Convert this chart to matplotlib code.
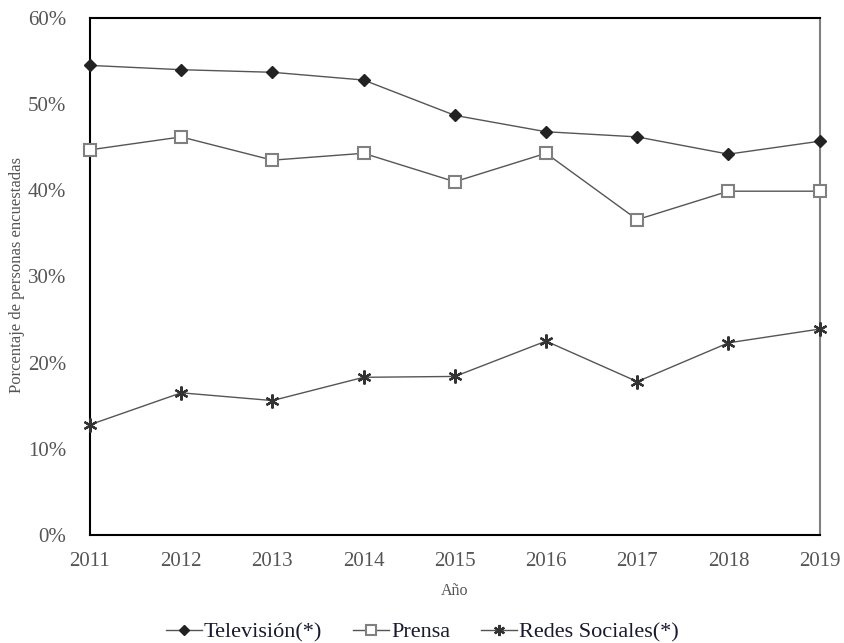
import matplotlib
matplotlib.use("Agg")
import matplotlib.pyplot as plt
from matplotlib.ticker import FuncFormatter

years = [2011, 2012, 2013, 2014, 2015, 2016, 2017, 2018, 2019]
television = [54.5, 54.0, 53.7, 52.8, 48.7, 46.8, 46.2, 44.2, 45.7]
prensa = [44.7, 46.2, 43.5, 44.3, 41.0, 44.3, 36.6, 39.9, 39.9]
redes = [12.8, 16.5, 15.6, 18.3, 18.4, 22.5, 17.8, 22.3, 23.9]
yticks = [0, 10, 20, 30, 40, 50, 60]

plt.rcParams['font.family'] = ['Liberation Serif', 'DejaVu Serif']

fig = plt.figure(figsize=(8.45, 6.43), dpi=100)
ax = fig.add_axes([0.1065, 0.168, 0.8635, 0.804])

lc = '#555555'
ax.plot(years, television, color=lc, lw=1.0, marker='D', ms=6.5,
        mfc='#222222', mec='#222222', label='Televisión(*)', clip_on=False, zorder=3)
ax.plot(years, prensa, color=lc, lw=1.0, marker='s', ms=9,
        mfc='white', mec='#808080', mew=1.5, label='Prensa', clip_on=False, zorder=3)
ax.plot(years, redes, color=lc, lw=1.0, marker=(6, 2, 0), ms=10,
        mfc='#333333', mec='#333333', mew=1.6, label='Redes Sociales(*)', clip_on=False, zorder=3)

ax.set_xlim(2011, 2019)
ax.set_ylim(0, 60)
ax.set_yticks(yticks)
ax.yaxis.set_major_formatter(FuncFormatter(lambda v, p: f"{int(v)}%"))
ax.set_xticks(years)
ax.tick_params(axis='both', length=0, labelsize=15, colors='#555555')
ax.tick_params(axis='x', pad=12)
ax.tick_params(axis='y', pad=17)
for s in ['left', 'bottom', 'top']:
    ax.spines[s].set_color('black')
    ax.spines[s].set_linewidth(1.5)
ax.spines['right'].set_color('#808080')
ax.spines['right'].set_linewidth(1.5)

fig.text(17 / 845, 1 - 275 / 643, 'Porcentaje de personas encuestadas', rotation=90,
         ha='center', va='center', fontsize=12, color='#555555')
ax.set_xlabel('Año', fontsize=11.5, color='#555555', labelpad=9)

leg = fig.legend(loc='lower center', bbox_to_anchor=(0.5, -0.03), ncol=3, frameon=False,
                 fontsize=16, handlelength=1.6, columnspacing=1.4, handletextpad=0.1,
                 labelcolor='#1a1a2e')
for h in leg.legend_handles:
    h.set_markersize(h.get_markersize() * 0.8)

fig.savefig('out.png', dpi=100)
